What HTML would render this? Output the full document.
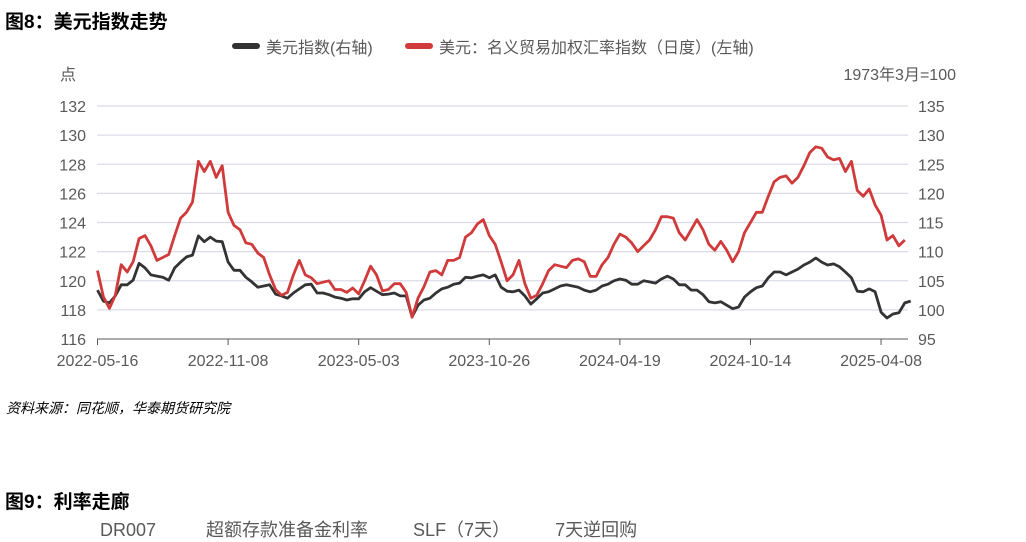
<!DOCTYPE html>
<html><head><meta charset="utf-8">
<style>
body{margin:0;width:1026px;height:526px;overflow:hidden;background:#fff;font-family:"Liberation Sans","Noto Sans CJK SC",sans-serif;position:relative}
.t{position:absolute;white-space:nowrap}
</style></head><body>
<div class="t" style="left:5px;top:7px;font-size:19px;font-weight:bold;color:#000">图8：美元指数走势</div>
<svg id="c" width="1026" height="400" style="position:absolute;left:0;top:0"></svg>
<div class="t" style="left:6px;top:398px;font-size:14px;font-style:italic;color:#000">资料来源：同花顺，华泰期货研究院</div>
<div class="t" style="left:5px;top:487px;font-size:19px;font-weight:bold;color:#000">图9：利率走廊</div>
<div class="t" style="left:100px;top:516px;font-size:18px;color:#595959">DR007 &nbsp;&nbsp;&nbsp;&nbsp;&nbsp;&nbsp;&nbsp;&nbsp; 超额存款准备金利率 &nbsp;&nbsp;&nbsp;&nbsp;&nbsp;&nbsp;&nbsp; SLF（7天） &nbsp;&nbsp;&nbsp;&nbsp;&nbsp;&nbsp;&nbsp; 7天逆回购</div>
<script>
const tickLabels=["2022-05-16","2022-11-08","2023-05-03","2023-10-26","2024-04-19","2024-10-14","2025-04-08"];
const leftTicks=[116,118,120,122,124,126,128,130,132];
const rightTicks=[95,100,105,110,115,120,125,130,135];
const stepDays=8;
const redSeries=[120.7,118.9,118.1,119.0,121.1,120.6,121.3,122.9,123.1,122.4,121.4,121.6,121.8,123.1,124.3,124.7,125.4,128.2,127.5,128.2,127.1,127.9,124.7,123.8,123.5,122.6,122.5,121.9,121.6,120.4,119.4,119.0,119.2,120.4,121.4,120.4,120.2,119.8,119.9,120.0,119.4,119.4,119.2,119.5,119.1,120.0,121.0,120.4,119.3,119.4,119.8,119.8,119.2,117.5,118.8,119.6,120.6,120.7,120.4,121.4,121.4,121.6,123.0,123.3,123.9,124.2,123.1,122.5,121.3,120.0,120.4,121.4,119.8,118.8,119.0,119.8,120.7,121.1,121.0,120.9,121.4,121.5,121.3,120.3,120.3,121.1,121.6,122.5,123.2,123.0,122.6,122.0,122.4,122.8,123.5,124.4,124.4,124.3,123.3,122.8,123.5,124.2,123.5,122.5,122.1,122.7,122.1,121.3,122.0,123.3,124.0,124.7,124.7,125.8,126.8,127.1,127.2,126.7,127.1,127.9,128.8,129.2,129.1,128.5,128.3,128.4,127.5,128.2,126.2,125.8,126.3,125.2,124.5,122.8,123.1,122.4,122.8];
const blackSeries=[103.4,101.5,101.2,102.4,104.3,104.3,105.1,108.0,107.2,106.0,105.8,105.6,105.1,107.2,108.2,109.1,109.4,112.7,111.7,112.5,111.8,111.7,108.2,106.8,106.8,105.6,104.8,103.9,104.1,104.3,102.7,102.4,102.0,102.9,103.6,104.3,104.4,102.9,102.9,102.6,102.2,102.0,101.7,101.9,101.9,103.1,103.8,103.2,102.6,102.7,102.9,102.4,102.4,98.8,100.8,101.7,102.0,102.9,103.6,103.9,104.4,104.6,105.6,105.5,105.8,106.0,105.5,106.0,103.9,103.2,103.1,103.4,102.4,101.0,101.9,102.9,103.1,103.6,104.1,104.3,104.1,103.9,103.4,103.1,103.4,104.1,104.4,105.0,105.3,105.1,104.4,104.4,105.0,104.8,104.6,105.3,105.8,105.3,104.3,104.3,103.4,103.4,102.6,101.4,101.2,101.4,100.8,100.2,100.5,102.2,103.1,103.8,104.1,105.5,106.5,106.5,106.0,106.5,107.0,107.7,108.2,108.9,108.2,107.7,107.9,107.4,106.5,105.5,103.2,103.1,103.6,103.1,99.6,98.6,99.3,99.5,101.2,101.5];
const NS="http://www.w3.org/2000/svg";
const svg=document.getElementById('c');
const x0=97.5,pxPerDay=0.742,yTop=106,yBot=339;
const xs=d=>x0+d*pxPerDay;
const yL=v=>yBot-(v-116)/16*(yBot-yTop);
const yR=v=>yBot-(v-95)/40*(yBot-yTop);
function mk(tag,attrs,txt){const e=document.createElementNS(NS,tag);for(const k in attrs)e.setAttribute(k,attrs[k]);if(txt!==undefined)e.textContent=txt;svg.appendChild(e);return e;}
leftTicks.forEach((v,i)=>{
  const y=yL(v);
  if(i>0){const g=mk('line',{x1:97,x2:908,y1:y,y2:y,stroke:'#d9dce8','stroke-width':1.3});
  
  }
  const t=mk('text',{x:86,y:y+6,'text-anchor':'end','font-size':16,fill:'#595959'},v);
  
  
});
rightTicks.forEach(v=>{
  const t=mk('text',{x:918,y:yR(v)+6,'font-size':16,fill:'#595959'},v);
  
  
});
const ax=mk('line',{x1:97,x2:908,y1:yBot,y2:yBot,stroke:'#595959','stroke-width':1});


tickLabels.forEach((s,i)=>{
  const x=xs(i*176);
  const tk=mk('line',{x1:x,x2:x,y1:yBot,y2:yBot+6,stroke:'#595959','stroke-width':1});
  
  
  const t=mk('text',{x:x,y:366,'text-anchor':'middle','font-size':16,fill:'#595959'},s);
  
  
});
const ly=mk('text',{x:60,y:80,'font-size':16,fill:'#595959'},'点');


const ry=mk('text',{x:956,y:80,'text-anchor':'end','font-size':16,fill:'#595959'},'1973年3月=100');


function path(arr,fy,color,name){
  const d=arr.map((v,i)=>(i?'L':'M')+xs(i*stepDays).toFixed(1)+' '+fy(v).toFixed(1)).join('');
  const p=mk('path',{d:d,fill:'none',stroke:color,'stroke-width':2.8,'stroke-linejoin':'round'});
  
  
}
path(blackSeries,yR,'#333333','usd-index-line');
path(redSeries,yL,'#d03a3a','trade-weighted-index-line');
const l1=mk('rect',{x:232,y:43,width:28,height:6,rx:3,fill:'#333333'});


const lt1=mk('text',{x:266,y:53,'font-size':16,fill:'#595959'},'美元指数(右轴)');


const l2=mk('rect',{x:405,y:43,width:28,height:6,rx:3,fill:'#d03a3a'});


const lt2=mk('text',{x:439,y:53,'font-size':16,fill:'#595959'},'美元：名义贸易加权汇率指数（日度）(左轴)');


</script>
</body></html>
